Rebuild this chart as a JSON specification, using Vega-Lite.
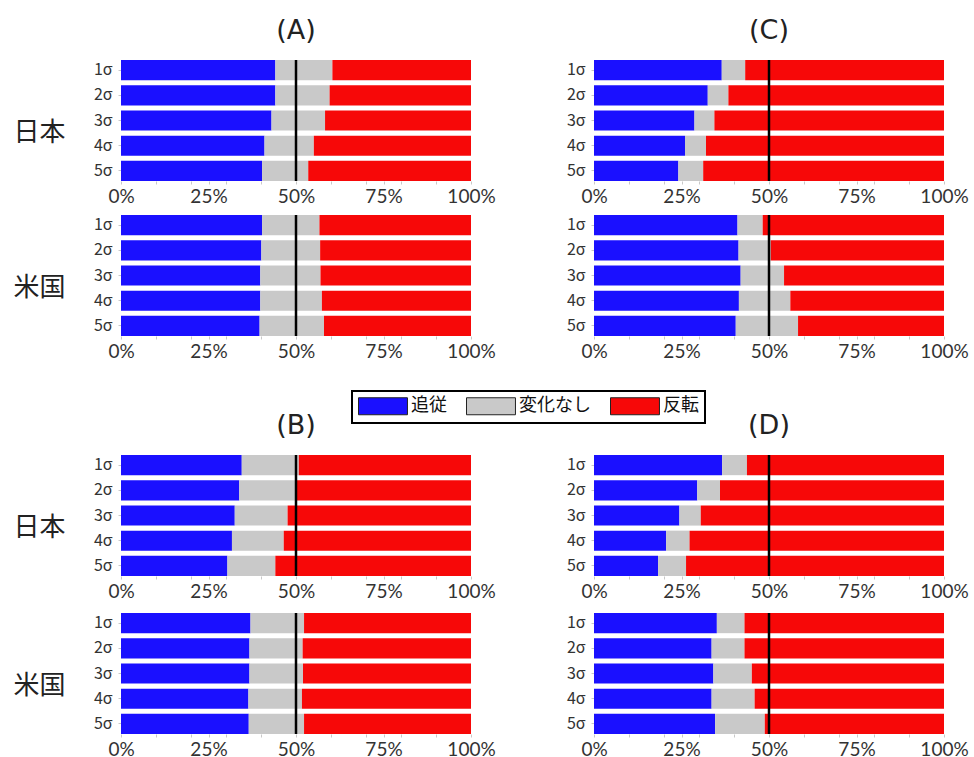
{
  "$schema": "https://vega.github.io/schema/vega-lite/v6.json",
  "padding": {"left": 13, "top": 16, "right": 5, "bottom": 0},
  "background": "white",
  "datasets": {
    "shares": [
      {"panel": "A", "country": "日本", "sigma": "1σ", "追従": 44.1, "変化なし": 16.3, "反転": 39.6},
      {"panel": "A", "country": "日本", "sigma": "2σ", "追従": 44.1, "変化なし": 15.5, "反転": 40.4},
      {"panel": "A", "country": "日本", "sigma": "3σ", "追従": 43.0, "変化なし": 15.3, "反転": 41.7},
      {"panel": "A", "country": "日本", "sigma": "4σ", "追従": 41.0, "変化なし": 14.1, "反転": 44.9},
      {"panel": "A", "country": "日本", "sigma": "5σ", "追従": 40.3, "変化なし": 13.2, "反転": 46.5},
      {"panel": "A", "country": "米国", "sigma": "1σ", "追従": 40.3, "変化なし": 16.4, "反転": 43.3},
      {"panel": "A", "country": "米国", "sigma": "2σ", "追従": 40.1, "変化なし": 16.8, "反転": 43.1},
      {"panel": "A", "country": "米国", "sigma": "3σ", "追従": 39.8, "変化なし": 17.2, "反転": 43.0},
      {"panel": "A", "country": "米国", "sigma": "4σ", "追従": 39.8, "変化なし": 17.6, "反転": 42.6},
      {"panel": "A", "country": "米国", "sigma": "5σ", "追従": 39.6, "変化なし": 18.4, "反転": 42.0},
      {"panel": "B", "country": "日本", "sigma": "1σ", "追従": 34.5, "変化なし": 16.3, "反転": 49.2},
      {"panel": "B", "country": "日本", "sigma": "2σ", "追従": 33.8, "変化なし": 16.4, "反転": 49.8},
      {"panel": "B", "country": "日本", "sigma": "3σ", "追従": 32.5, "変化なし": 15.1, "反転": 52.4},
      {"panel": "B", "country": "日本", "sigma": "4σ", "追従": 31.7, "変化なし": 14.8, "反転": 53.5},
      {"panel": "B", "country": "日本", "sigma": "5σ", "追従": 30.4, "変化なし": 13.7, "反転": 55.9},
      {"panel": "B", "country": "米国", "sigma": "1σ", "追従": 37.0, "変化なし": 15.3, "反転": 47.7},
      {"panel": "B", "country": "米国", "sigma": "2σ", "追従": 36.7, "変化なし": 15.2, "反転": 48.1},
      {"panel": "B", "country": "米国", "sigma": "3σ", "追従": 36.7, "変化なし": 15.3, "反転": 48.0},
      {"panel": "B", "country": "米国", "sigma": "4σ", "追従": 36.4, "変化なし": 15.3, "反転": 48.3},
      {"panel": "B", "country": "米国", "sigma": "5σ", "追従": 36.5, "変化なし": 15.8, "反転": 47.7},
      {"panel": "C", "country": "日本", "sigma": "1σ", "追従": 36.5, "変化なし": 6.7, "反転": 56.8},
      {"panel": "C", "country": "日本", "sigma": "2σ", "追従": 32.5, "変化なし": 5.9, "反転": 61.6},
      {"panel": "C", "country": "日本", "sigma": "3σ", "追従": 28.7, "変化なし": 5.7, "反転": 65.6},
      {"panel": "C", "country": "日本", "sigma": "4σ", "追従": 26.0, "変化なし": 6.0, "反転": 68.0},
      {"panel": "C", "country": "日本", "sigma": "5σ", "追従": 24.1, "変化なし": 7.1, "反転": 68.8},
      {"panel": "C", "country": "米国", "sigma": "1σ", "追従": 41.0, "変化なし": 7.2, "反転": 51.8},
      {"panel": "C", "country": "米国", "sigma": "2σ", "追従": 41.3, "変化なし": 9.2, "反転": 49.5},
      {"panel": "C", "country": "米国", "sigma": "3σ", "追従": 41.9, "変化なし": 12.4, "反転": 45.7},
      {"panel": "C", "country": "米国", "sigma": "4σ", "追従": 41.4, "変化なし": 14.7, "反転": 43.9},
      {"panel": "C", "country": "米国", "sigma": "5σ", "追従": 40.5, "変化なし": 17.8, "反転": 41.7},
      {"panel": "D", "country": "日本", "sigma": "1σ", "追従": 36.6, "変化なし": 7.1, "反転": 56.3},
      {"panel": "D", "country": "日本", "sigma": "2σ", "追従": 29.5, "変化なし": 6.5, "反転": 64.0},
      {"panel": "D", "country": "日本", "sigma": "3σ", "追従": 24.4, "変化なし": 6.1, "反転": 69.5},
      {"panel": "D", "country": "日本", "sigma": "4σ", "追従": 20.6, "変化なし": 6.7, "反転": 72.7},
      {"panel": "D", "country": "日本", "sigma": "5σ", "追従": 18.3, "変化なし": 8.0, "反転": 73.7},
      {"panel": "D", "country": "米国", "sigma": "1σ", "追従": 35.1, "変化なし": 7.9, "反転": 57.0},
      {"panel": "D", "country": "米国", "sigma": "2σ", "追従": 33.6, "変化なし": 9.4, "反転": 57.0},
      {"panel": "D", "country": "米国", "sigma": "3σ", "追従": 34.1, "変化なし": 11.0, "反転": 54.9},
      {"panel": "D", "country": "米国", "sigma": "4σ", "追従": 33.6, "変化なし": 12.3, "反転": 54.1},
      {"panel": "D", "country": "米国", "sigma": "5σ", "追従": 34.6, "変化なし": 14.2, "反転": 51.2}
    ]
  },
  "hconcat": [
    {
      "spacing": 50,
      "vconcat": [
        {
          "spacing": 7,
          "vconcat": [
            {
              "title": "(A)",
              "width": 350, "height": 121,
              "data": {"name": "shares"},
              "transform": [{"filter": "datum.panel === 'A' && datum.country === '日本'"}, {"fold": ["追従", "変化なし", "反転"], "as": ["outcome", "share"]}],
              "layer": [
                {"mark": {"type": "bar"},
                 "encoding": {
                   "y": {"field": "sigma", "type": "nominal", "scale": {"paddingInner": 0.2, "paddingOuter": 0}, "axis": {"title": "日本"}},
                   "x": {"field": "share", "type": "quantitative", "stack": "normalize", "scale": {"domain": [0, 1]}, "axis": {"title": null, "format": ".0%", "labelOverlap": false, "values": [0, 0.1, 0.2, 0.25, 0.3, 0.4, 0.5, 0.6, 0.7, 0.75, 0.8, 0.9, 1], "labelExpr": "round(datum.value * 100) % 25 === 0 ? datum.label : ''"}},
                   "color": {"field": "outcome", "type": "nominal", "title": null, "scale": {"domain": ["追従", "変化なし", "反転"], "range": ["#1a10ff", "#c9c9c9", "#f70808"]}},
                   "order": {"field": "outcome", "sort": "descending"}
                 }},
                {"data": {"values": [{}]}, "mark": {"type": "rule", "color": "#000", "strokeWidth": 2.5}, "encoding": {"x": {"datum": 0.5, "axis": {"title": null, "format": ".0%", "labelOverlap": false, "values": [0, 0.1, 0.2, 0.25, 0.3, 0.4, 0.5, 0.6, 0.7, 0.75, 0.8, 0.9, 1], "labelExpr": "round(datum.value * 100) % 25 === 0 ? datum.label : ''"}}}}
              ]
            },
            {
              "width": 350, "height": 121,
              "data": {"name": "shares"},
              "transform": [{"filter": "datum.panel === 'A' && datum.country === '米国'"}, {"fold": ["追従", "変化なし", "反転"], "as": ["outcome", "share"]}],
              "layer": [
                {"mark": {"type": "bar"},
                 "encoding": {
                   "y": {"field": "sigma", "type": "nominal", "scale": {"paddingInner": 0.2, "paddingOuter": 0}, "axis": {"title": "米国"}},
                   "x": {"field": "share", "type": "quantitative", "stack": "normalize", "scale": {"domain": [0, 1]}, "axis": {"title": null, "format": ".0%", "labelOverlap": false, "values": [0, 0.1, 0.2, 0.25, 0.3, 0.4, 0.5, 0.6, 0.7, 0.75, 0.8, 0.9, 1], "labelExpr": "round(datum.value * 100) % 25 === 0 ? datum.label : ''"}},
                   "color": {"field": "outcome", "type": "nominal", "title": null, "scale": {"domain": ["追従", "変化なし", "反転"], "range": ["#1a10ff", "#c9c9c9", "#f70808"]}},
                   "order": {"field": "outcome", "sort": "descending"}
                 }},
                {"data": {"values": [{}]}, "mark": {"type": "rule", "color": "#000", "strokeWidth": 2.5}, "encoding": {"x": {"datum": 0.5, "axis": {"title": null, "format": ".0%", "labelOverlap": false, "values": [0, 0.1, 0.2, 0.25, 0.3, 0.4, 0.5, 0.6, 0.7, 0.75, 0.8, 0.9, 1], "labelExpr": "round(datum.value * 100) % 25 === 0 ? datum.label : ''"}}}}
              ]
            }
          ]
        },
        {
          "spacing": 10,
          "vconcat": [
            {
              "title": "(B)",
              "width": 350, "height": 121,
              "data": {"name": "shares"},
              "transform": [{"filter": "datum.panel === 'B' && datum.country === '日本'"}, {"fold": ["追従", "変化なし", "反転"], "as": ["outcome", "share"]}],
              "layer": [
                {"mark": {"type": "bar"},
                 "encoding": {
                   "y": {"field": "sigma", "type": "nominal", "scale": {"paddingInner": 0.2, "paddingOuter": 0}, "axis": {"title": "日本"}},
                   "x": {"field": "share", "type": "quantitative", "stack": "normalize", "scale": {"domain": [0, 1]}, "axis": {"title": null, "format": ".0%", "labelOverlap": false, "values": [0, 0.1, 0.2, 0.25, 0.3, 0.4, 0.5, 0.6, 0.7, 0.75, 0.8, 0.9, 1], "labelExpr": "round(datum.value * 100) % 25 === 0 ? datum.label : ''"}},
                   "color": {"field": "outcome", "type": "nominal", "title": null, "scale": {"domain": ["追従", "変化なし", "反転"], "range": ["#1a10ff", "#c9c9c9", "#f70808"]}},
                   "order": {"field": "outcome", "sort": "descending"}
                 }},
                {"data": {"values": [{}]}, "mark": {"type": "rule", "color": "#000", "strokeWidth": 2.5}, "encoding": {"x": {"datum": 0.5, "axis": {"title": null, "format": ".0%", "labelOverlap": false, "values": [0, 0.1, 0.2, 0.25, 0.3, 0.4, 0.5, 0.6, 0.7, 0.75, 0.8, 0.9, 1], "labelExpr": "round(datum.value * 100) % 25 === 0 ? datum.label : ''"}}}}
              ]
            },
            {
              "width": 350, "height": 121,
              "data": {"name": "shares"},
              "transform": [{"filter": "datum.panel === 'B' && datum.country === '米国'"}, {"fold": ["追従", "変化なし", "反転"], "as": ["outcome", "share"]}],
              "layer": [
                {"mark": {"type": "bar"},
                 "encoding": {
                   "y": {"field": "sigma", "type": "nominal", "scale": {"paddingInner": 0.2, "paddingOuter": 0}, "axis": {"title": "米国"}},
                   "x": {"field": "share", "type": "quantitative", "stack": "normalize", "scale": {"domain": [0, 1]}, "axis": {"title": null, "format": ".0%", "labelOverlap": false, "values": [0, 0.1, 0.2, 0.25, 0.3, 0.4, 0.5, 0.6, 0.7, 0.75, 0.8, 0.9, 1], "labelExpr": "round(datum.value * 100) % 25 === 0 ? datum.label : ''"}},
                   "color": {"field": "outcome", "type": "nominal", "title": null, "scale": {"domain": ["追従", "変化なし", "反転"], "range": ["#1a10ff", "#c9c9c9", "#f70808"]}},
                   "order": {"field": "outcome", "sort": "descending"}
                 }},
                {"data": {"values": [{}]}, "mark": {"type": "rule", "color": "#000", "strokeWidth": 2.5}, "encoding": {"x": {"datum": 0.5, "axis": {"title": null, "format": ".0%", "labelOverlap": false, "values": [0, 0.1, 0.2, 0.25, 0.3, 0.4, 0.5, 0.6, 0.7, 0.75, 0.8, 0.9, 1], "labelExpr": "round(datum.value * 100) % 25 === 0 ? datum.label : ''"}}}}
              ]
            }
          ]
        }
      ]
    },
    {
      "spacing": 50,
      "vconcat": [
        {
          "spacing": 7,
          "vconcat": [
            {
              "title": "(C)",
              "width": 350, "height": 121,
              "data": {"name": "shares"},
              "transform": [{"filter": "datum.panel === 'C' && datum.country === '日本'"}, {"fold": ["追従", "変化なし", "反転"], "as": ["outcome", "share"]}],
              "layer": [
                {"mark": {"type": "bar"},
                 "encoding": {
                   "y": {"field": "sigma", "type": "nominal", "scale": {"paddingInner": 0.2, "paddingOuter": 0}, "axis": {"title": null}},
                   "x": {"field": "share", "type": "quantitative", "stack": "normalize", "scale": {"domain": [0, 1]}, "axis": {"title": null, "format": ".0%", "labelOverlap": false, "values": [0, 0.1, 0.2, 0.25, 0.3, 0.4, 0.5, 0.6, 0.7, 0.75, 0.8, 0.9, 1], "labelExpr": "round(datum.value * 100) % 25 === 0 ? datum.label : ''"}},
                   "color": {"field": "outcome", "type": "nominal", "title": null, "scale": {"domain": ["追従", "変化なし", "反転"], "range": ["#1a10ff", "#c9c9c9", "#f70808"]}},
                   "order": {"field": "outcome", "sort": "descending"}
                 }},
                {"data": {"values": [{}]}, "mark": {"type": "rule", "color": "#000", "strokeWidth": 2.5}, "encoding": {"x": {"datum": 0.5, "axis": {"title": null, "format": ".0%", "labelOverlap": false, "values": [0, 0.1, 0.2, 0.25, 0.3, 0.4, 0.5, 0.6, 0.7, 0.75, 0.8, 0.9, 1], "labelExpr": "round(datum.value * 100) % 25 === 0 ? datum.label : ''"}}}}
              ]
            },
            {
              "width": 350, "height": 121,
              "data": {"name": "shares"},
              "transform": [{"filter": "datum.panel === 'C' && datum.country === '米国'"}, {"fold": ["追従", "変化なし", "反転"], "as": ["outcome", "share"]}],
              "layer": [
                {"mark": {"type": "bar"},
                 "encoding": {
                   "y": {"field": "sigma", "type": "nominal", "scale": {"paddingInner": 0.2, "paddingOuter": 0}, "axis": {"title": null}},
                   "x": {"field": "share", "type": "quantitative", "stack": "normalize", "scale": {"domain": [0, 1]}, "axis": {"title": null, "format": ".0%", "labelOverlap": false, "values": [0, 0.1, 0.2, 0.25, 0.3, 0.4, 0.5, 0.6, 0.7, 0.75, 0.8, 0.9, 1], "labelExpr": "round(datum.value * 100) % 25 === 0 ? datum.label : ''"}},
                   "color": {"field": "outcome", "type": "nominal", "title": null, "scale": {"domain": ["追従", "変化なし", "反転"], "range": ["#1a10ff", "#c9c9c9", "#f70808"]}},
                   "order": {"field": "outcome", "sort": "descending"}
                 }},
                {"data": {"values": [{}]}, "mark": {"type": "rule", "color": "#000", "strokeWidth": 2.5}, "encoding": {"x": {"datum": 0.5, "axis": {"title": null, "format": ".0%", "labelOverlap": false, "values": [0, 0.1, 0.2, 0.25, 0.3, 0.4, 0.5, 0.6, 0.7, 0.75, 0.8, 0.9, 1], "labelExpr": "round(datum.value * 100) % 25 === 0 ? datum.label : ''"}}}}
              ]
            }
          ]
        },
        {
          "spacing": 10,
          "vconcat": [
            {
              "title": "(D)",
              "width": 350, "height": 121,
              "data": {"name": "shares"},
              "transform": [{"filter": "datum.panel === 'D' && datum.country === '日本'"}, {"fold": ["追従", "変化なし", "反転"], "as": ["outcome", "share"]}],
              "layer": [
                {"mark": {"type": "bar"},
                 "encoding": {
                   "y": {"field": "sigma", "type": "nominal", "scale": {"paddingInner": 0.2, "paddingOuter": 0}, "axis": {"title": null}},
                   "x": {"field": "share", "type": "quantitative", "stack": "normalize", "scale": {"domain": [0, 1]}, "axis": {"title": null, "format": ".0%", "labelOverlap": false, "values": [0, 0.1, 0.2, 0.25, 0.3, 0.4, 0.5, 0.6, 0.7, 0.75, 0.8, 0.9, 1], "labelExpr": "round(datum.value * 100) % 25 === 0 ? datum.label : ''"}},
                   "color": {"field": "outcome", "type": "nominal", "title": null, "scale": {"domain": ["追従", "変化なし", "反転"], "range": ["#1a10ff", "#c9c9c9", "#f70808"]}},
                   "order": {"field": "outcome", "sort": "descending"}
                 }},
                {"data": {"values": [{}]}, "mark": {"type": "rule", "color": "#000", "strokeWidth": 2.5}, "encoding": {"x": {"datum": 0.5, "axis": {"title": null, "format": ".0%", "labelOverlap": false, "values": [0, 0.1, 0.2, 0.25, 0.3, 0.4, 0.5, 0.6, 0.7, 0.75, 0.8, 0.9, 1], "labelExpr": "round(datum.value * 100) % 25 === 0 ? datum.label : ''"}}}}
              ]
            },
            {
              "width": 350, "height": 121,
              "data": {"name": "shares"},
              "transform": [{"filter": "datum.panel === 'D' && datum.country === '米国'"}, {"fold": ["追従", "変化なし", "反転"], "as": ["outcome", "share"]}],
              "layer": [
                {"mark": {"type": "bar"},
                 "encoding": {
                   "y": {"field": "sigma", "type": "nominal", "scale": {"paddingInner": 0.2, "paddingOuter": 0}, "axis": {"title": null}},
                   "x": {"field": "share", "type": "quantitative", "stack": "normalize", "scale": {"domain": [0, 1]}, "axis": {"title": null, "format": ".0%", "labelOverlap": false, "values": [0, 0.1, 0.2, 0.25, 0.3, 0.4, 0.5, 0.6, 0.7, 0.75, 0.8, 0.9, 1], "labelExpr": "round(datum.value * 100) % 25 === 0 ? datum.label : ''"}},
                   "color": {"field": "outcome", "type": "nominal", "title": null, "scale": {"domain": ["追従", "変化なし", "反転"], "range": ["#1a10ff", "#c9c9c9", "#f70808"]}},
                   "order": {"field": "outcome", "sort": "descending"}
                 }},
                {"data": {"values": [{}]}, "mark": {"type": "rule", "color": "#000", "strokeWidth": 2.5}, "encoding": {"x": {"datum": 0.5, "axis": {"title": null, "format": ".0%", "labelOverlap": false, "values": [0, 0.1, 0.2, 0.25, 0.3, 0.4, 0.5, 0.6, 0.7, 0.75, 0.8, 0.9, 1], "labelExpr": "round(datum.value * 100) % 25 === 0 ? datum.label : ''"}}}}
              ]
            }
          ]
        }
      ]
    }
  ],
  "spacing": 70,
  "config": {
    "view": {"stroke": null},
    "font": "Lato",
    "title": {"font": "DejaVu Sans", "fontSize": 27, "fontWeight": "normal", "color": "#222", "frame": "group", "anchor": "middle", "offset": 14},
    "axisX": {"labelFont": "Lato", "labelFontSize": 19, "labelColor": "#333", "domain": false, "grid": false, "tickColor": "#c8c8c8", "tickSize": 3, "labelPadding": 3, "labelFlush": false},
    "axisY": {"labelFont": "Noto Sans CJK JP", "labelFontSize": 16, "labelColor": "#333", "domain": false, "grid": false, "tickColor": "#c8c8c8", "tickSize": 3, "labelPadding": 6, "titleAngle": 0, "titleFont": "Noto Sans CJK JP", "titleFontSize": 26, "titleFontWeight": "normal", "titleColor": "#222", "titleAlign": "left", "titleBaseline": "middle", "titleX": -108, "titleY": 72},
    "legend": {"orient": "none", "legendX": 231, "legendY": 331, "direction": "horizontal", "symbolType": "M-1,-1H4.76V1H-1Z", "symbolSize": 289, "symbolStrokeColor": "#222", "symbolStrokeWidth": 1, "labelFont": "Noto Sans CJK JP", "labelFontSize": 18, "labelColor": "#111", "labelOffset": 35, "columnPadding": 17, "padding": 6, "strokeColor": "#000", "strokeWidth": 2}
  }
}
